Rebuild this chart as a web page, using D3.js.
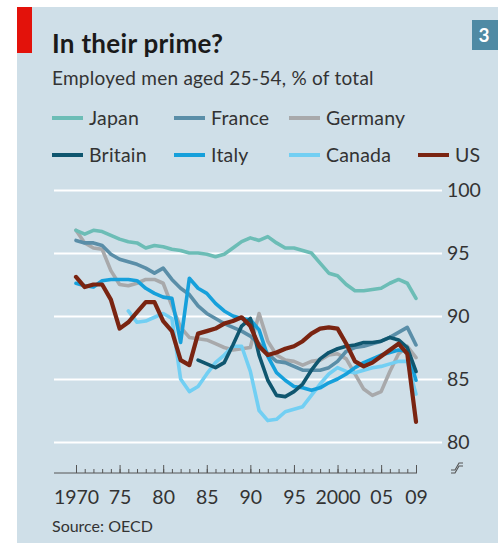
<!DOCTYPE html>
<html>
<head>
<meta charset="utf-8">
<script src="https://cdn.jsdelivr.net/npm/d3@7"></script>
<style>
  html, body { margin: 0; padding: 0; background: #ffffff; }
  svg { display: block; }
  text { font-family: Lato, "Open Sans", sans-serif; }
</style>
</head>
<body>
<svg id="chart" width="498" height="545"></svg>
<script>
// ---- DATA ----
const years = d3.range(1970, 2010);
const japan   = [96.8,96.5,96.8,96.7,96.4,96.1,95.9,95.8,95.4,95.6, 95.5,95.3,95.2,95.0,95.0,94.9,94.7,94.9,95.4,95.9, 96.2,96.0,96.3,95.8,95.4,95.4,95.2,95.0,94.2,93.4, 93.2,92.5,92.0,92.0,92.1,92.2,92.6,92.9,92.6,91.4];
const france  = [96.0,95.8,95.8,95.6,94.9,94.5,94.3,94.1,93.8,93.4, 93.8,92.9,92.2,91.7,90.8,90.2,89.8,89.4,89.1,88.8, 88.4,87.8,87.0,86.4,86.3,86.0,85.7,85.7,85.7,85.9, 86.4,87.2,87.5,87.6,87.8,88.0,88.3,88.7,89.1,87.7];
const germany = [96.8,95.8,95.4,95.3,93.6,92.5,92.4,92.6,92.9,92.9, 92.6,90.8,89.1,88.3,88.2,88.1,87.8,87.5,87.3,87.4, 87.5,90.2,88.0,86.9,86.5,86.4,86.1,86.4,86.5,86.9, 87.0,86.6,85.4,84.2,83.7,84.0,85.6,87.0,87.6,86.7];
const britain = [null,null,null,null,null,null,null,null,null,null, null,null,null,null,86.5,86.2,85.9,86.3,87.7,89.2, 89.8,86.9,84.9,83.7,83.6,84.0,84.6,85.7,86.6,87.1, 87.4,87.6,87.7,87.9,87.9,88.0,88.3,88.1,87.5,85.6];
const italy   = [92.6,92.4,92.3,92.8,92.9,92.9,92.9,92.8,92.2,91.8, 91.5,91.4,87.9,93.0,92.2,91.8,91.0,90.4,90.0,89.8, 89.7,88.9,86.8,85.5,84.9,84.4,84.3,84.1,84.3,84.7, 85.0,85.4,85.9,86.3,86.6,86.9,87.1,87.3,87.2,84.9];
const canada  = [null,null,null,null,null,null,90.4,89.5,89.6,89.9, 90.2,89.8,85.0,84.0,84.4,85.4,86.3,86.9,87.6,87.6, 85.6,82.5,81.7,81.8,82.4,82.6,82.8,83.7,84.6,85.4, 85.9,85.6,85.5,85.7,85.9,86.0,86.2,86.4,86.4,83.8];
const us      = [93.1,92.3,92.5,92.5,91.3,89.0,89.5,90.3,91.1,91.1, 89.6,88.8,86.5,86.1,88.6,88.8,89.0,89.4,89.6,89.9, 89.2,87.6,86.9,87.1,87.4,87.6,88.0,88.6,89.0,89.1, 89.0,87.8,86.4,86.0,86.3,86.8,87.3,87.8,87.0,81.6];

const yTicks = [80, 85, 90, 95, 100];
const xMajor = [1970, 1975, 1980, 1985, 1990, 1995, 2000, 2005, 2009];
const xLabels = ["1970", "75", "80", "85", "90", "95", "2000", "05", "09"];

const seriesNames  = ["Japan", "France", "Germany", "Britain", "Italy", "Canada", "US"];
const seriesValues = [japan, france, germany, britain, italy, canada, us];
const seriesColors = ["#6cbdb6", "#5a8ea8", "#a8a9ab", "#0f566f", "#16a0db", "#72cff3", "#7a2411"];
const drawOrder = ["Germany", "France", "Japan", "Canada", "Italy", "Britain", "US"];

// ---- LAYOUT ----
const svg = d3.select("#chart");
const W = 498, H = 545;
const FONT = "Lato, 'Open Sans', sans-serif";

svg.append("rect").attr("x", 17).attr("y", 7).attr("width", W - 17).attr("height", 536).attr("fill", "#cfdfe8");
svg.append("rect").attr("x", 17).attr("y", 7).attr("width", 15).attr("height", 46).attr("fill", "#e3120b");

svg.append("rect").attr("x", 472).attr("y", 20).attr("width", 26).attr("height", 30).attr("fill", "#4f8aa4");
svg.append("text").attr("x", 484).attr("y", 42).attr("text-anchor", "middle")
  .attr("fill", "#fff").attr("font-weight", "bold").attr("font-size", 19).text("3");

svg.append("text").attr("x", 52).attr("y", 53).attr("font-size", 26).attr("font-weight", "bold")
  .attr("letter-spacing", 0.3).attr("fill", "#1a1a1a").text("In their prime?");
svg.append("text").attr("x", 52).attr("y", 85).attr("font-size", 19)
  .attr("letter-spacing", 0.25).attr("fill", "#333").text("Employed men aged 25-54, % of total");

// Legend
const legendPos = [[52,118],[174,118],[289,118],[52,155],[174,155],[289,155],[418,155]];
seriesNames.forEach((n, i) => {
  const [lx, ly] = legendPos[i];
  svg.append("line").attr("x1", lx).attr("x2", lx + 31).attr("y1", ly).attr("y2", ly)
    .attr("stroke", seriesColors[i]).attr("stroke-width", 4);
  svg.append("text").attr("x", lx + 37).attr("y", ly + 7).attr("font-size", 19.5)
    .attr("letter-spacing", 0.2).attr("fill", "#333").text(n);
});

// Scales
const x = d3.scaleLinear().domain([1970, 2009]).range([76, 416]);
const y = d3.scaleLinear().domain([80, 100]).range([442, 190]);

// Gridlines + y labels
const gy = svg.append("g").attr("transform", "translate(54,0)")
  .call(d3.axisRight(y).tickValues(yTicks).tickSize(388).tickPadding(5));
gy.select(".domain").remove();
gy.selectAll(".tick line").attr("stroke", "#ffffff").attr("stroke-width", 2);
gy.selectAll(".tick text").attr("fill", "#333").attr("font-size", 19.5)
  .attr("font-family", FONT);

// X axis
const axisY = 473;
svg.append("line").attr("x1", 54).attr("x2", x(2009) + 1).attr("y1", axisY).attr("y2", axisY)
  .attr("stroke", "#555").attr("stroke-width", 1);
const gxMinor = svg.append("g").attr("transform", `translate(0,${axisY})`)
  .call(d3.axisTop(x).tickValues(years).tickSize(4).tickFormat(""));
gxMinor.select(".domain").remove();
gxMinor.selectAll(".tick line").attr("stroke", "#555");
const gxMajor = svg.append("g").attr("transform", `translate(0,${axisY})`)
  .call(d3.axisTop(x).tickValues(xMajor).tickSize(8).tickFormat(""));
gxMajor.select(".domain").remove();
gxMajor.selectAll(".tick line").attr("stroke", "#555");
const gxLab = svg.append("g").attr("transform", `translate(0,${axisY})`)
  .call(d3.axisBottom(x).tickValues(xMajor).tickSize(0).tickPadding(17)
    .tickFormat((d, i) => xLabels[i]));
gxLab.select(".domain").remove();
gxLab.selectAll(".tick text").attr("fill", "#333").attr("font-size", 19.5)
  .attr("font-family", FONT);

// axis break symbol
svg.append("path").attr("d", "M451,470 L455,470 L459,463 L463,463 M451,473 L455,473 L459,466 L463,466")
  .attr("fill", "none").attr("stroke", "#555").attr("stroke-width", 1.1);

// Lines
const line = d3.line().defined(d => d.v != null).x(d => x(d.year)).y(d => y(d.v));
drawOrder.forEach(n => {
  const i = seriesNames.indexOf(n);
  const data = years.map((yr, k) => ({ year: yr, v: seriesValues[i][k] }));
  svg.append("path").datum(data).attr("d", line)
    .attr("fill", "none").attr("stroke", seriesColors[i])
    .attr("stroke-width", n === "US" ? 4.2 : 3.6)
    .attr("stroke-linejoin", "round").attr("stroke-linecap", "round");
});

svg.append("text").attr("x", 52).attr("y", 532).attr("font-size", 16)
  .attr("fill", "#333").text("Source: OECD");
</script>
</body>
</html>
